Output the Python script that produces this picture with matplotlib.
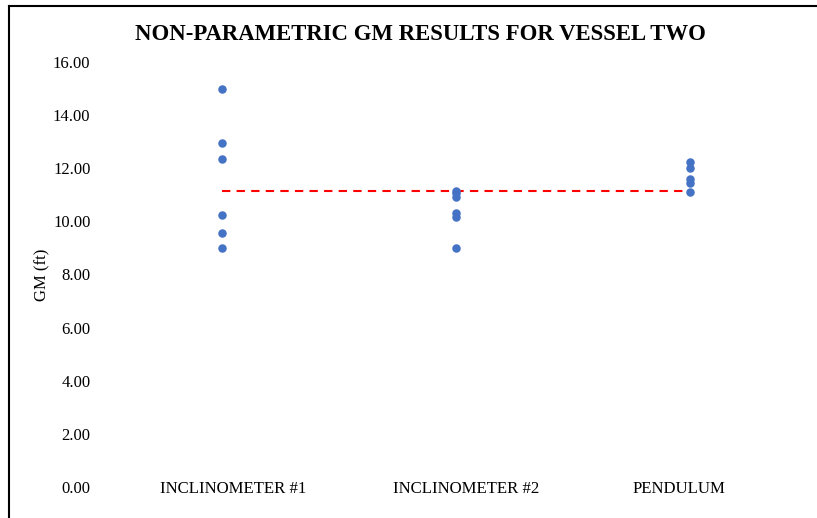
import matplotlib.pyplot as plt
from matplotlib.lines import Line2D
from matplotlib.transforms import ScaledTranslation

plt.rcParams['font.family'] = ['Liberation Serif', 'DejaVu Serif']

categories = ['INCLINOMETER #1', 'INCLINOMETER #2', 'PENDULUM']
incl1 = [15.0, 12.95, 12.35, 10.25, 9.55, 9.0]
incl2 = [11.15, 11.05, 10.9, 10.3, 10.15, 9.0]
pendulum = [12.25, 12.0, 11.6, 11.45, 11.1]
mean_gm = 11.14
yticks = [0, 2, 4, 6, 8, 10, 12, 14, 16]

fig = plt.figure(figsize=(8.17, 5.18), dpi=100)
ax = fig.add_axes([105 / 817, 31 / 518, 702 / 817, 425 / 518])

for i, vals in enumerate([incl1, incl2, pendulum]):
    ax.scatter([i + 1] * len(vals), vals, s=26, color='#4472C4', zorder=3)

# average line across the three methods
ax.plot([1, 3], [mean_gm, mean_gm], color='#FF0000', linestyle=(0, (4, 3)), linewidth=1.5, zorder=2)

ax.set_xlim(0.5, 3.5)
ax.set_ylim(0, 16)
ax.set_yticks(yticks)
ax.set_yticklabels(['%.2f' % v for v in yticks], fontsize=12)
ax.set_xticks([1, 2, 3])
ax.set_xticklabels(categories, fontsize=12.1)
ax.tick_params(axis='y', length=0, pad=10.5)
ax.tick_params(axis='x', length=0, pad=-4)
# category labels in the original sit a little off the dot columns
shifts = [11, 10.5, -11.5]
for lab, dx in zip(ax.get_xticklabels(), shifts):
    lab.set_transform(lab.get_transform() + ScaledTranslation(dx / 100, 0, fig.dpi_scale_trans))
for s in ax.spines.values():
    s.set_visible(False)

ax.set_ylabel('GM (ft)', fontsize=12)
ax.yaxis.set_label_coords(-0.078, 0.5)
fig.text(0.515, 0.934, 'NON-PARAMETRIC GM RESULTS FOR VESSEL TWO', ha='center', va='center',
         fontsize=16.4, fontweight='bold')

# frame of the chart object (top and left only, rest is cropped)
fig.add_artist(Line2D([9 / 817, 1], [1 - 6 / 518, 1 - 6 / 518], color='black', linewidth=1.5))
fig.add_artist(Line2D([9 / 817, 9 / 817], [0, 1 - 6 / 518], color='black', linewidth=1.5))

fig.savefig('out.png', dpi=100)
